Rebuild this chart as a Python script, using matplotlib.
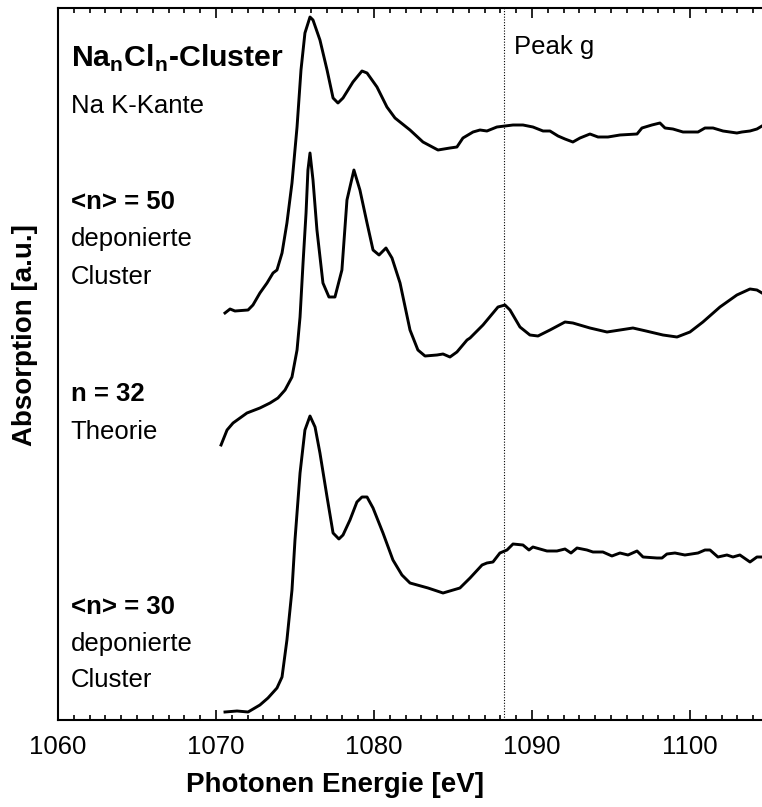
import numpy as np
import matplotlib
matplotlib.use("Agg")
import matplotlib.pyplot as plt
from matplotlib.ticker import MultipleLocator

plt.rcParams["font.family"] = ["Liberation Sans", "DejaVu Sans"]
plt.rcParams["mathtext.fontset"] = "custom"
plt.rcParams["mathtext.rm"] = "Liberation Sans"
plt.rcParams["mathtext.bf"] = "Liberation Sans:bold"

# <n> = 50, deponierte Cluster (top)
e_n50 = [1070.57, 1070.89, 1071.20, 1072.03, 1072.34, 1072.78, 1073.23, 1073.61, 1073.86,
         1074.18, 1074.49, 1074.81, 1075.13, 1075.38, 1075.63, 1075.95, 1076.14, 1076.58,
         1077.03, 1077.41, 1077.72, 1078.04, 1078.67, 1079.24, 1079.56, 1080.19, 1080.82,
         1081.33, 1082.28, 1083.10, 1084.05, 1084.81, 1085.25, 1085.63, 1086.27, 1086.71,
         1087.15, 1087.78, 1088.29, 1088.80, 1089.43, 1090.06, 1090.70, 1091.14, 1091.65,
         1092.09, 1092.59, 1093.04, 1093.67, 1094.18, 1094.81, 1095.57, 1096.65, 1096.96,
         1097.59, 1098.10, 1098.42, 1098.92, 1099.56, 1100.51, 1100.95, 1101.46, 1102.09,
         1102.97, 1103.29, 1103.80, 1104.24, 1104.56]
a_n50 = [4.07, 4.11, 4.09, 4.10, 4.15, 4.27, 4.37, 4.47, 4.50,
         4.67, 4.97, 5.37, 5.93, 6.50, 6.87, 7.03, 7.00, 6.80,
         6.50, 6.22, 6.17, 6.22, 6.38, 6.49, 6.47, 6.33, 6.13,
         6.02, 5.90, 5.78, 5.70, 5.72, 5.73, 5.82, 5.88, 5.90,
         5.89, 5.93, 5.94, 5.95, 5.95, 5.93, 5.89, 5.89, 5.84,
         5.81, 5.78, 5.82, 5.86, 5.83, 5.83, 5.85, 5.86, 5.92,
         5.95, 5.97, 5.92, 5.91, 5.88, 5.88, 5.92, 5.92, 5.89,
         5.87, 5.88, 5.89, 5.91, 5.94]

# n = 32, Theorie (middle)
e_n32 = [1070.32, 1070.70, 1071.08, 1071.96, 1072.78, 1073.42, 1073.92, 1074.37, 1074.81,
         1075.13, 1075.32, 1075.51, 1075.70, 1075.82, 1075.95, 1076.14, 1076.39, 1076.77,
         1077.15, 1077.53, 1077.97, 1078.29, 1078.48, 1078.73, 1079.11, 1079.56, 1079.94,
         1080.32, 1080.76, 1081.14, 1081.65, 1082.28, 1082.78, 1083.23, 1083.99, 1084.37,
         1084.81, 1085.25, 1085.89, 1086.08, 1086.90, 1087.85, 1088.29, 1088.61, 1089.24,
         1089.87, 1090.38, 1091.14, 1092.09, 1092.59, 1093.67, 1094.75, 1095.57, 1096.39,
         1097.22, 1098.29, 1099.18, 1100.00, 1100.82, 1101.90, 1102.97, 1103.80, 1104.24,
         1104.56]
a_n32 = [2.75, 2.90, 2.97, 3.07, 3.12, 3.17, 3.22, 3.30, 3.43,
         3.70, 4.03, 4.57, 5.07, 5.50, 5.67, 5.40, 4.90, 4.37,
         4.23, 4.23, 4.50, 5.20, 5.33, 5.50, 5.30, 4.97, 4.70,
         4.65, 4.72, 4.62, 4.37, 3.90, 3.70, 3.64, 3.65, 3.66,
         3.63, 3.68, 3.80, 3.82, 3.95, 4.13, 4.15, 4.10, 3.93,
         3.85, 3.84, 3.90, 3.98, 3.97, 3.92, 3.88, 3.90, 3.92,
         3.89, 3.85, 3.83, 3.88, 3.98, 4.13, 4.25, 4.31, 4.30,
         4.27]

# <n> = 30, deponierte Cluster (bottom)
e_n30 = [1070.57, 1071.33, 1072.03, 1072.78, 1073.29, 1073.86, 1074.18, 1074.49, 1074.81,
         1075.00, 1075.32, 1075.63, 1075.95, 1076.27, 1076.58, 1077.03, 1077.41, 1077.78,
         1078.04, 1078.48, 1078.92, 1079.24, 1079.56, 1079.94, 1080.57, 1081.20, 1081.77,
         1082.28, 1083.42, 1084.37, 1085.44, 1086.08, 1086.84, 1087.15, 1087.53, 1087.97,
         1088.42, 1088.80, 1089.43, 1089.81, 1090.06, 1090.95, 1091.58, 1092.09, 1092.47,
         1092.85, 1093.48, 1093.86, 1094.49, 1095.06, 1095.57, 1096.08, 1096.65, 1097.03,
         1097.91, 1098.23, 1098.54, 1099.05, 1099.68, 1100.51, 1100.95, 1101.27, 1101.77,
         1102.34, 1102.72, 1103.16, 1103.80, 1104.24, 1104.56]
a_n30 = [0.08, 0.09, 0.08, 0.15, 0.22, 0.32, 0.43, 0.80, 1.30,
         1.80, 2.47, 2.90, 3.04, 2.93, 2.67, 2.23, 1.87, 1.81,
         1.85, 2.00, 2.18, 2.23, 2.23, 2.12, 1.87, 1.60, 1.45,
         1.37, 1.32, 1.27, 1.32, 1.42, 1.55, 1.57, 1.58, 1.67,
         1.70, 1.76, 1.75, 1.70, 1.73, 1.69, 1.69, 1.71, 1.67,
         1.72, 1.70, 1.68, 1.68, 1.64, 1.67, 1.65, 1.69, 1.63,
         1.62, 1.62, 1.66, 1.67, 1.65, 1.67, 1.70, 1.70, 1.63,
         1.65, 1.63, 1.65, 1.58, 1.63, 1.63]

peak_g = 1088.23
x_ticks = [1060, 1070, 1080, 1090, 1100]

fig = plt.figure(figsize=(7.62, 8.07), dpi=100)
ax = fig.add_axes([58 / 762, 87 / 807, 704 / 762, 712 / 807])

for e, a in [(e_n50, a_n50), (e_n32, a_n32), (e_n30, a_n30)]:
    ax.plot(e, a, color="black", lw=2.1, solid_joinstyle="round")

ax.axvline(peak_g, color="black", lw=0.8, ls=(0, (1, 1.5)))

ax.set_xlim(1060, 1104.56)
ax.set_ylim(0, 7.12)
ax.set_xticks(x_ticks)
ax.xaxis.set_minor_locator(MultipleLocator(1))
ax.set_yticks([])
ax.spines["right"].set_visible(False)
for s in ["left", "bottom", "top"]:
    ax.spines[s].set_linewidth(1.5)
ax.tick_params(axis="x", which="both", direction="in", top=True, width=1.2, labelsize=18.5, pad=11)
ax.tick_params(axis="x", which="major", length=7.5)
ax.tick_params(axis="x", which="minor", length=3.6)

# labels
x0 = 1060.8
fs = 18.5
ax.text(x0, 6.62, r"$\mathbf{Na}_{\mathbf{n}}\mathbf{Cl}_{\mathbf{n}}$-Cluster",
        fontsize=21.8, fontweight="bold", va="center")
ax.text(x0, 6.14, "Na K-Kante", fontsize=fs, va="center")
ax.text(1088.86, 6.66, "Peak g", fontsize=fs, va="baseline")

ax.text(x0, 5.11, "<n> = 50", fontsize=fs, fontweight="bold", va="baseline")
ax.text(x0, 4.74, "deponierte", fontsize=fs, va="baseline")
ax.text(x0, 4.36, "Cluster", fontsize=fs, va="baseline")
ax.text(x0, 3.19, "n = 32", fontsize=fs, fontweight="bold", va="baseline")
ax.text(x0, 2.81, "Theorie", fontsize=fs, va="baseline")
ax.text(x0, 1.06, "<n> = 30", fontsize=fs, fontweight="bold", va="baseline")
ax.text(x0, 0.69, "deponierte", fontsize=fs, va="baseline")
ax.text(x0, 0.33, "Cluster", fontsize=fs, va="baseline")

fig.text(25 / 762, 1 - 335 / 807, "Absorption [a.u.]", rotation=90, fontsize=20,
         fontweight="bold", ha="center", va="center")
fig.text(335 / 762, 1 - 785 / 807, "Photonen Energie [eV]", fontsize=20,
         fontweight="bold", ha="center", va="center")

fig.savefig("out.png", dpi=100)
